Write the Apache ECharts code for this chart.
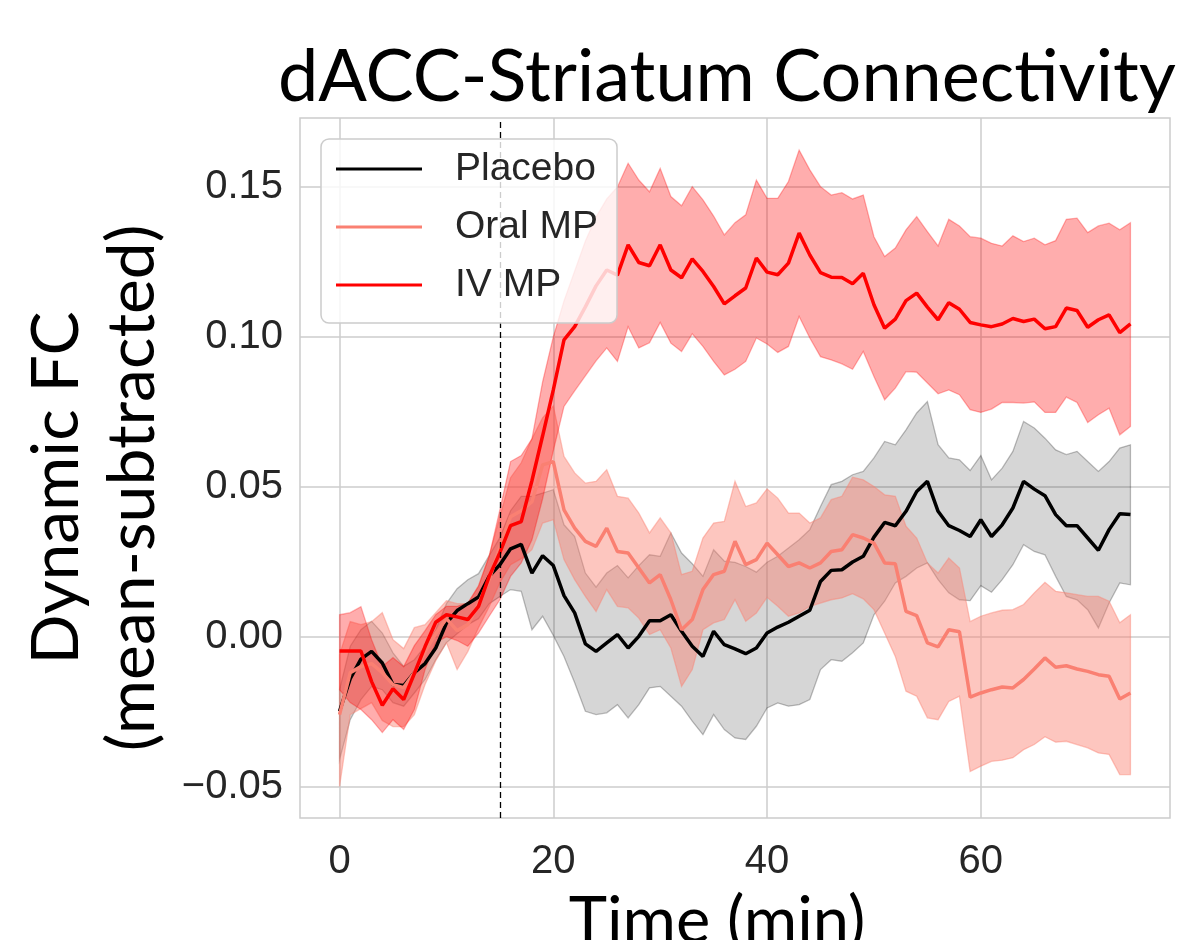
<!DOCTYPE html>
<html>
<head>
<meta charset="utf-8">
<script src="https://cdn.jsdelivr.net/npm/echarts@6/dist/echarts.min.js"></script>
<style>
html, body { margin: 0; padding: 0; background: #fff; }
#chart { width: 1185px; height: 940px; }
</style>
</head>
<body>
<div id="chart"></div>
<script>
// Time axis (minutes)
var minutes = [0,1,2,3,4,5,6,7,8,9,10,11,12,13,14,15,16,17,18,19,20,21,22,23,24,25,26,27,28,29,
  30,31,32,33,34,35,36,37,38,39,40,41,42,43,44,45,46,47,48,49,50,51,52,53,54,55,56,57,58,59,
  60,61,62,63,64,65,66,67,68,69,70,71,72,73,74];

// Placebo: mean and band
var placeboMean = [-0.0249,-0.014,-0.0075,-0.0049,-0.0088,-0.016,-0.0163,-0.012,-0.009,-0.0038,
  0.0045,0.0087,0.011,0.0132,0.0201,0.024,0.0293,0.0308,0.0212,0.027,
  0.0237,0.0137,0.0079,-0.0024,-0.0049,-0.0021,0.0007,-0.0038,0.0001,0.0053,
  0.0053,0.0073,0.0018,-0.0032,-0.0066,0.0018,-0.0027,-0.0041,-0.0057,-0.0038,
  0.0012,0.0032,0.0048,0.0068,0.0088,0.0184,0.0221,0.0223,0.0249,0.0268,
  0.0332,0.0381,0.037,0.0418,0.0484,0.0518,0.0418,0.037,0.0354,0.0334,
  0.039,0.0334,0.0373,0.0429,0.0518,0.0492,0.047,0.0407,0.037,0.037,
  0.0329,0.0288,0.0357,0.041,0.0407];
var placeboHigh = [-0.0177,-0.0032,0.0023,0.0051,0.0012,-0.0054,-0.0099,-0.0077,-0.0032,0.0023,
  0.011,0.016,0.019,0.021,0.027,0.033,0.042,0.0468,0.0468,0.0479,
  0.049,0.0373,0.0334,0.0212,0.0165,0.0212,0.0237,0.0196,0.0237,0.0273,
  0.0268,0.0346,0.0279,0.0243,0.0201,0.029,0.0252,0.0248,0.0234,0.0215,
  0.0248,0.0268,0.0296,0.0323,0.0357,0.0434,0.0507,0.0518,0.054,0.0551,
  0.0596,0.0651,0.064,0.069,0.0746,0.0784,0.064,0.0596,0.059,0.0554,
  0.0604,0.0523,0.0562,0.0618,0.0718,0.0696,0.0662,0.0623,0.0607,0.0618,
  0.0584,0.0551,0.0584,0.0629,0.064];
var placeboLow = [-0.041,-0.0277,-0.021,-0.0166,-0.0177,-0.022,-0.0232,-0.0188,-0.0143,-0.0077,
  -0.002,0.001,0.004,0.006,0.011,0.0134,0.0157,0.0151,0.0023,0.0068,
  0.0004,-0.0066,-0.0154,-0.0249,-0.026,-0.0254,-0.0227,-0.0271,-0.0227,-0.0171,
  -0.0166,-0.0199,-0.0232,-0.0282,-0.0327,-0.026,-0.031,-0.0338,-0.0343,-0.0299,
  -0.0238,-0.0221,-0.0232,-0.0227,-0.021,-0.011,-0.0077,-0.0082,-0.0054,-0.0021,
  0.0073,0.0118,0.0179,0.0201,0.0229,0.0246,0.019,0.0146,0.0123,0.012,
  0.017,0.0148,0.019,0.024,0.0307,0.0284,0.0273,0.0201,0.0134,0.0123,
  0.009,0.0029,0.0112,0.0179,0.0173];

// Oral MP: mean and band
var oralMean = [-0.026,-0.012,-0.01,-0.009,-0.012,-0.016,-0.017,-0.012,-0.005,0.001,
  0.006,0.002,0.004,0.011,0.019,0.03,0.04,0.042,0.045,0.0573,
  0.0584,0.0423,0.0362,0.0318,0.0301,0.0362,0.0284,0.0279,0.0229,0.0179,
  0.0207,0.0123,0.0023,0.0057,0.0157,0.0207,0.0218,0.0318,0.024,0.0257,
  0.0312,0.0273,0.0234,0.0246,0.0229,0.0246,0.0284,0.029,0.034,0.0329,
  0.0312,0.0246,0.0243,0.0084,0.007,-0.0021,-0.0034,0.0023,0.0016,-0.0202,
  -0.0188,-0.0177,-0.0168,-0.0171,-0.0143,-0.0108,-0.0071,-0.0102,-0.0097,-0.0108,
  -0.0116,-0.0127,-0.0132,-0.0208,-0.0188];
var oralHigh = [-0.006,0.005,0.004,0.005,0.008,-0.001,-0.004,0.003,0.004,0.008,
  0.012,0.011,0.011,0.017,0.027,0.04,0.053,0.058,0.066,0.073,
  0.077,0.0601,0.0546,0.0512,0.0518,0.0557,0.0468,0.0462,0.0412,0.0346,
  0.0396,0.0346,0.0207,0.0218,0.0329,0.0379,0.0384,0.0518,0.0434,0.0446,
  0.0493,0.0462,0.0412,0.0412,0.0379,0.0396,0.0457,0.0468,0.0532,0.0523,
  0.0501,0.0473,0.0468,0.0368,0.0329,0.0246,0.0212,0.0262,0.0229,0.005,
  0.0068,0.0079,0.0088,0.009,0.0107,0.0146,0.0181,0.0151,0.0146,0.014,
  0.0134,0.0134,0.0118,0.0046,0.0073];
var oralLow = [-0.05,-0.026,-0.024,-0.022,-0.028,-0.03,-0.03,-0.026,-0.016,-0.008,
  -0.002,-0.011,-0.005,0.003,0.01,0.018,0.024,0.026,0.029,0.0379,
  0.039,0.0257,0.019,0.0134,0.0084,0.0157,0.0101,0.0096,0.0062,0.0007,
  0.0023,-0.0038,-0.0166,-0.011,0.0023,0.0046,0.0057,0.0123,0.0051,0.0079,
  0.0131,0.0101,0.0068,0.0079,0.0101,0.0112,0.0123,0.0129,0.0143,0.0126,
  0.009,0.0012,-0.0066,-0.0182,-0.0199,-0.0271,-0.0277,-0.0216,-0.0199,-0.045,
  -0.0432,-0.0416,-0.0412,-0.0404,-0.0377,-0.036,-0.0334,-0.0352,-0.0349,-0.036,
  -0.0371,-0.0388,-0.0393,-0.046,-0.046];

// IV MP: mean and band
var ivMean = [-0.0048,-0.0048,-0.0048,-0.015,-0.0229,-0.0174,-0.021,-0.0123,-0.0033,0.0048,
  0.0073,0.0066,0.0057,0.0101,0.0201,0.028,0.037,0.0384,0.052,0.067,
  0.0823,0.099,0.1034,0.11,0.117,0.1223,0.1206,0.1307,0.1248,0.1237,
  0.1307,0.1223,0.1197,0.126,0.1218,0.1168,0.111,0.1137,0.1163,0.1263,
  0.1216,0.1207,0.1246,0.1346,0.1273,0.1214,0.1199,0.1198,0.1177,0.1212,
  0.1107,0.1029,0.1059,0.1121,0.1146,0.1099,0.1057,0.1114,0.1092,0.1048,
  0.104,0.1034,0.1043,0.1061,0.1051,0.1059,0.1027,0.1034,0.1096,0.1088,
  0.1032,0.1057,0.1073,0.1014,0.1043];
var ivHigh = [0.0073,0.008,0.01,-0.001,-0.01,-0.007,-0.01,-0.003,0.002,0.0073,
  0.0101,0.0101,0.0112,0.0168,0.0268,0.0423,0.0584,0.0604,0.066,0.085,
  0.1,0.112,0.122,0.132,0.14,0.146,0.15,0.1579,0.1523,0.1484,
  0.1562,0.1468,0.1437,0.1501,0.1457,0.1403,0.134,0.1381,0.1407,0.1523,
  0.1462,0.1462,0.1518,0.1623,0.1557,0.1501,0.1473,0.1481,0.146,0.1473,
  0.1334,0.1268,0.1296,0.1357,0.1401,0.1351,0.1303,0.1392,0.137,0.1334,
  0.1329,0.1312,0.1303,0.1337,0.1318,0.1329,0.1307,0.1321,0.1392,0.1396,
  0.1348,0.137,0.1379,0.1357,0.1381];
var ivLow = [-0.0177,-0.022,-0.0243,-0.0277,-0.032,-0.0277,-0.031,-0.0243,-0.011,-0.002,
  0,-0.0013,-0.0032,0.0012,0.0068,0.0123,0.0201,0.0246,0.0323,0.046,
  0.062,0.0768,0.082,0.087,0.092,0.0963,0.0918,0.1034,0.0963,0.098,
  0.1048,0.0979,0.0951,0.101,0.0968,0.0918,0.0873,0.0892,0.0918,0.0996,
  0.0976,0.0948,0.0968,0.1068,0.0996,0.0934,0.0923,0.091,0.0892,0.0951,
  0.0868,0.079,0.0829,0.0884,0.0882,0.0846,0.081,0.0823,0.0807,0.0757,
  0.0748,0.0759,0.0781,0.0781,0.0779,0.0783,0.0748,0.0748,0.0799,0.0781,
  0.0714,0.074,0.0762,0.0673,0.0701];

var xTicks = [0, 20, 40, 60];
var yTicks = [-0.05, 0, 0.05, 0.1, 0.15];
var doseTime = 15;

var chart = echarts.init(document.getElementById('chart'));

function pairs(vals) {
    return minutes.map(function (t, i) { return [t, vals[i]]; });
}

// shaded band: one polygon (upper edge, then lower edge backwards), drawn once
function band(lo, hi, fill, edge) {
    return {
        type: 'custom', silent: true, z: 1,
        data: minutes.map(function (t, i) { return [t, lo[i], hi[i]]; }),
        encode: { x: 0, y: [1, 2] },
        renderItem: function (params, api) {
            if (params.dataIndex !== 0) return null;
            var top = minutes.map(function (t, i) { return api.coord([t, hi[i]]); });
            var bottom = minutes.map(function (t, i) { return api.coord([t, lo[i]]); });
            return {
                type: 'polygon',
                shape: { points: top.concat(bottom.reverse()) },
                style: { fill: fill, stroke: edge, lineWidth: 1.3 }
            };
        }
    };
}

function meanLine(name, vals, color) {
    return {
        type: 'line', name: name, data: pairs(vals), symbol: 'none', z: 3,
        lineStyle: { color: color, width: 3.5 }, itemStyle: { color: color }
    };
}

var textColor = '#262626';
var gridColor = '#cccccc';

var series = [
    band(placeboLow, placeboHigh, 'rgba(0,0,0,0.16)', 'rgba(0,0,0,0.25)'),
    band(oralLow, oralHigh, 'rgba(250,128,114,0.45)', 'rgba(250,128,114,0.45)'),
    band(ivLow, ivHigh, 'rgba(255,0,0,0.32)', 'rgba(255,0,0,0.3)')
];

var placeboLine = meanLine('Placebo', placeboMean, '#000000');
placeboLine.markLine = {
    silent: true, symbol: 'none', label: { show: false },
    lineStyle: { color: '#000', type: [6, 4], width: 1.3 },
    data: [{ xAxis: doseTime }]
};
series.push(placeboLine);
series.push(meanLine('Oral MP', oralMean, '#FA8072'));
series.push(meanLine('IV MP', ivMean, '#FF0000'));

var option = {
    animation: false,
    backgroundColor: '#ffffff',
    title: {
        text: 'dACC-Striatum Connectivity',
        left: 273, top: 37,
        textStyle: { fontFamily: 'Lato', fontSize: 72, fontWeight: 'normal', color: '#000' }
    },
    legend: {
        data: ['Placebo', 'Oral MP', 'IV MP'],
        orient: 'vertical',
        left: 321, top: 139,
        padding: [1, 19, 9, 15],
        itemGap: 0,
        icon: 'rect',
        itemWidth: 86, itemHeight: 3,
        backgroundColor: 'rgba(255,255,255,0.8)',
        borderColor: gridColor, borderWidth: 1.5, borderRadius: 8,
        z: 10,
        textStyle: {
            fontFamily: 'Liberation Sans', fontSize: 39, color: textColor,
            lineHeight: 58, padding: [0, 0, 0, 28]
        }
    },
    grid: {
        left: 300, top: 118, width: 870, height: 700,
        outerBoundsMode: 'none', containLabel: false,
        show: true, borderColor: gridColor, borderWidth: 1.5
    },
    xAxis: {
        type: 'value', min: -3.7, max: 77.7,
        name: 'Time (min)', nameLocation: 'middle', nameGap: 72,
        nameTextStyle: { fontFamily: 'Lato', fontSize: 65, color: '#000', padding: [0, 36, 0, 0] },
        axisLine: { show: false },
        axisTick: { show: false, customValues: xTicks },
        axisLabel: {
            customValues: xTicks, margin: 24,
            fontFamily: 'Liberation Sans', fontSize: 40, color: textColor
        },
        splitLine: { show: true, lineStyle: { color: gridColor, width: 1.5 } }
    },
    yAxis: {
        type: 'value', min: -0.0605, max: 0.173,
        name: 'Dynamic FC\n(mean-subtracted)', nameLocation: 'middle', nameRotate: 90, nameGap: 104,
        nameTextStyle: { fontFamily: 'Lato', fontSize: 66, lineHeight: 76, color: '#000', padding: [0, 40, 0, 0] },
        axisLine: { show: false },
        axisTick: { show: false, customValues: yTicks },
        axisLabel: {
            customValues: yTicks, margin: 17,
            fontFamily: 'Liberation Sans', fontSize: 40, color: textColor,
            formatter: function (v) {
                return (v < 0 ? '\u2212' : '') + Math.abs(v).toFixed(2);
            }
        },
        splitLine: { show: true, lineStyle: { color: gridColor, width: 1.5 } }
    },
    series: series
};

chart.setOption(option);
</script>
</body>
</html>
